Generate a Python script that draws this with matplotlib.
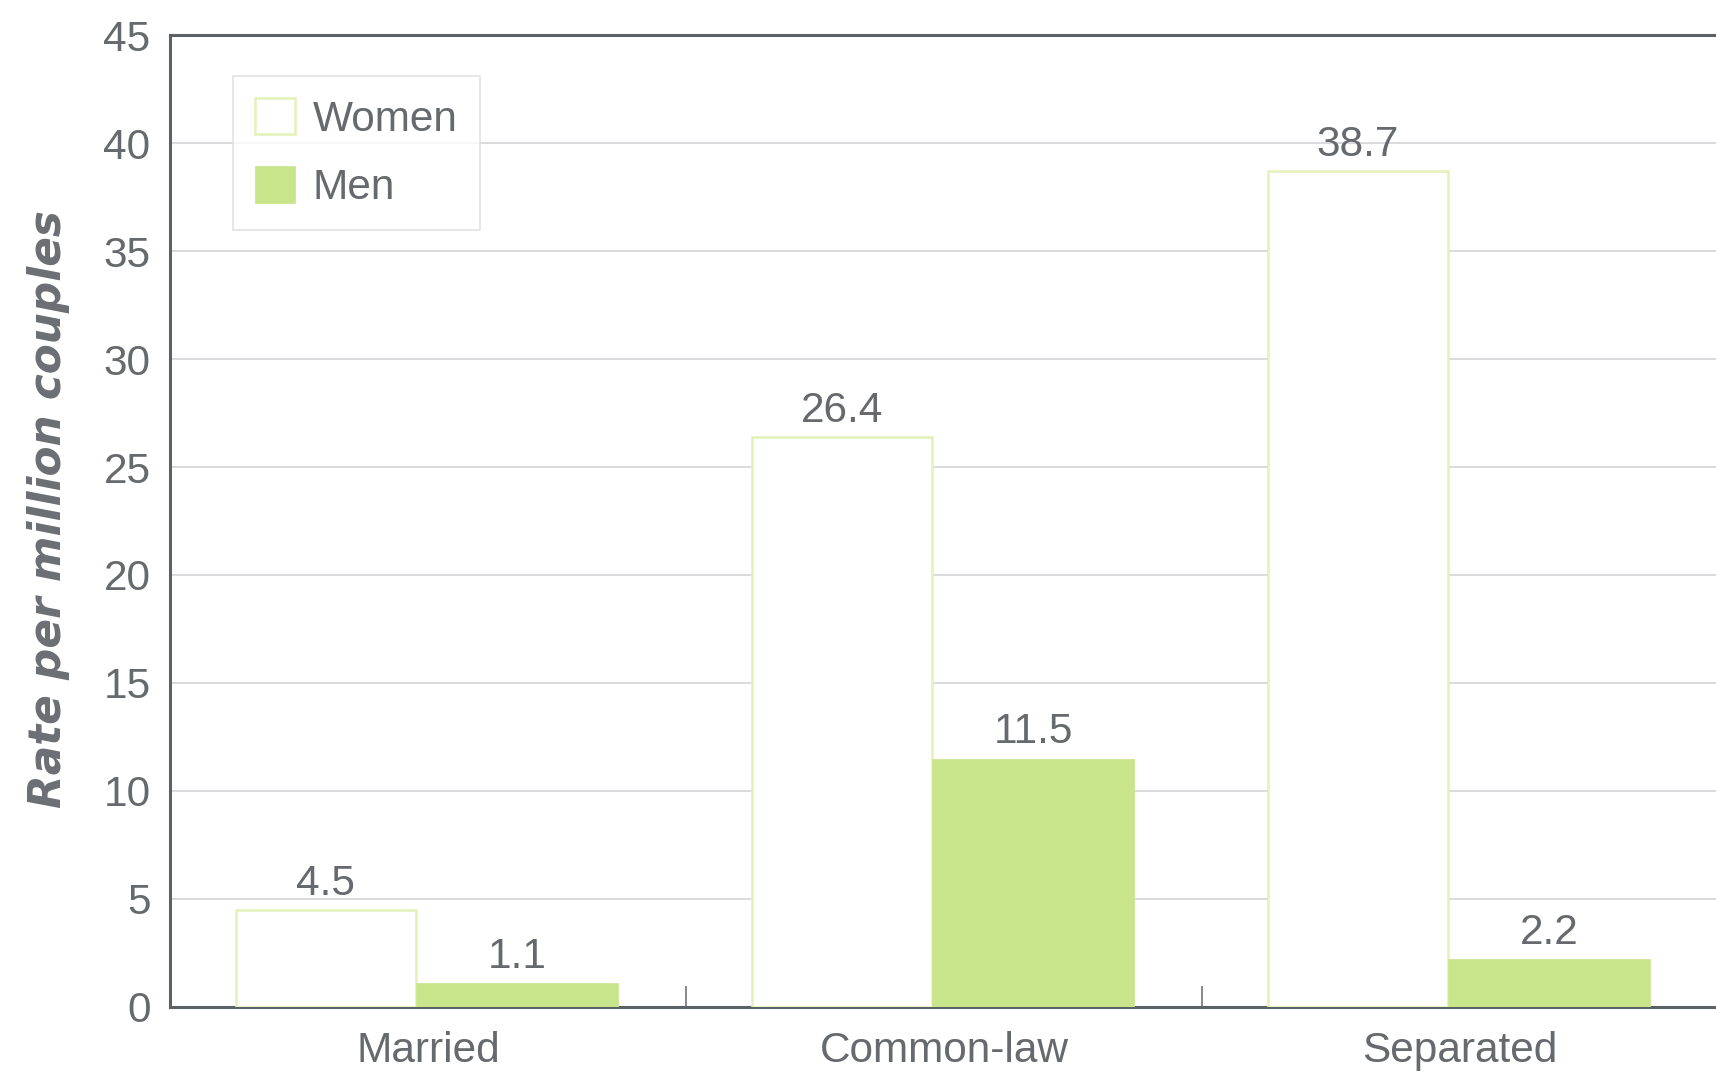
import matplotlib
matplotlib.use("Agg")
import matplotlib.pyplot as plt
import numpy as np

categories = ["Married", "Common-law", "Separated"]
women = [4.5, 26.4, 38.7]
men = [1.1, 11.5, 2.2]
series_names = ["Women", "Men"]
y_ticks = [0, 5, 10, 15, 20, 25, 30, 35, 40, 45]
y_label = "Rate per million couples"

plt.rcParams['font.family'] = ['Liberation Sans', 'DejaVu Sans']

TEXT = "#66696d"
SPINE = "#5a6266"
MEN_FILL = "#c9e58c"
WOMEN_EDGE = "#e3f2b8"
GRID = "#d5d8dc"
FS = 30.5

fig = plt.figure(figsize=(17.16, 10.75), dpi=100)
ax = fig.add_axes([0.0991, 0.0633, 0.9021, 0.9674 - 0.0633])

x = np.arange(len(categories))
w_off, w_w = -0.373, 0.350
m_off, m_w = -0.023, 0.392

bw = ax.bar(x + w_off, women, width=w_w, align='edge', facecolor='white',
            edgecolor=WOMEN_EDGE, linewidth=1.8, zorder=3, label=series_names[0])
bm = ax.bar(x + m_off, men, width=m_w, align='edge', facecolor=MEN_FILL,
            edgecolor=MEN_FILL, linewidth=0.5, zorder=3, label=series_names[1])

for bars, vals in ((bw, women), (bm, men)):
    for b, v in zip(bars, vals):
        ax.annotate(f"{v:.1f}", (b.get_x() + b.get_width() / 2, v),
                    xytext=(0, 4.5), textcoords='offset points',
                    ha='center', va='bottom', fontsize=FS, color=TEXT, zorder=4)

ax.set_xlim(-0.5, 2.5)
ax.set_ylim(0, 45)
ax.set_yticks(y_ticks)
ax.set_yticklabels([str(t) for t in y_ticks])
ax.set_xticks(x)
ax.set_xticklabels(categories)
ax.set_xticks([0.5, 1.5], minor=True)
ax.tick_params(axis='x', which='major', length=0, pad=17, labelsize=FS, labelcolor=TEXT)
ax.tick_params(axis='x', which='minor', direction='in', length=15, width=1.2, color="#6f747a")
ax.tick_params(axis='y', length=0, pad=14, labelsize=FS, labelcolor=TEXT)

ax.yaxis.grid(True, color=GRID, linewidth=1.3, zorder=0)
ax.set_axisbelow(True)

for s in ['left', 'bottom', 'top']:
    ax.spines[s].set_color(SPINE)
    ax.spines[s].set_linewidth(2.2)
ax.spines['right'].set_visible(False)

ax.set_ylabel(y_label, fontsize=31.5, fontweight='bold', fontstyle='italic',
              family=['DejaVu Sans'], color="#6b6e72", labelpad=24)
ax.yaxis.label.set_y(0.512)

leg = ax.legend(loc='upper left', bbox_to_anchor=(0.0405, 0.958), borderaxespad=0,
                fontsize=FS, frameon=True, fancybox=False, edgecolor="#dcdcdc",
                handlelength=0.95, handleheight=0.95, handletextpad=0.42,
                labelspacing=0.63, borderpad=0.52, labelcolor=TEXT)
leg.get_frame().set_linewidth(1.2)

fig.savefig("out.png", dpi=100)
